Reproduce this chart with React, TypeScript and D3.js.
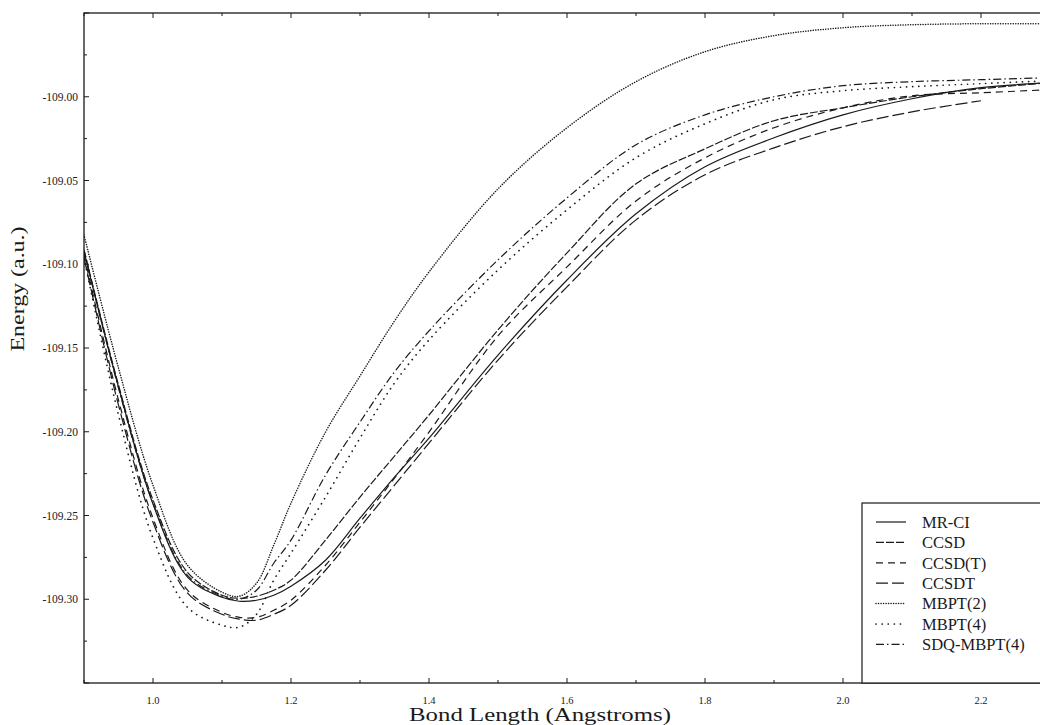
import React from "react";
import * as d3 from "d3";

// Bond length grid (Angstroms)
const X_VALUES = [0.9, 0.95, 1.0, 1.05, 1.1, 1.125, 1.15, 1.175, 1.2, 1.25, 1.3, 1.35, 1.4, 1.5, 1.6, 1.7, 1.8, 1.9, 2.0, 2.1, 2.2, 2.3];

// Energies (a.u.)
const MRCI = [-109.0926, -109.1733, -109.2432, -109.2868, -109.2988, -109.3012, -109.3006, -109.2976, -109.2922, -109.2767, -109.2516, -109.2271, -109.2038, -109.1542, -109.1094, -109.0699, -109.0418, -109.0245, -109.0108, -109.0012, -108.9946, -108.9916];
const CCSD = [-109.0914, -109.1721, -109.2408, -109.2839, -109.2976, -109.2994, -109.2982, -109.2946, -109.2886, -109.2647, -109.239, -109.2145, -109.19, -109.1392, -109.0932, -109.052, -109.0311, -109.0143, -109.0066, -109.0, -108.9952, -108.9916];
const CCSD_T = [-109.0944, -109.1811, -109.2516, -109.2946, -109.3078, -109.3108, -109.3108, -109.3066, -109.3006, -109.2797, -109.254, -109.2277, -109.2002, -109.1428, -109.1016, -109.0622, -109.0365, -109.0185, -109.0066, -108.9994, -108.9976, -108.9958];
const CCSDT = [-109.0962, -109.1841, -109.254, -109.2964, -109.309, -109.3119, -109.3125, -109.309, -109.3036, -109.2827, -109.257, -109.2319, -109.2068, -109.1572, -109.1135, -109.0735, -109.0466, -109.0305, -109.0179, -109.009, -109.0024, null];
const MBPT2 = [-109.0825, -109.162, -109.2319, -109.2797, -109.2958, -109.2982, -109.2904, -109.2677, -109.2426, -109.2002, -109.1667, -109.1339, -109.1046, -109.055, -109.0185, -108.991, -108.9731, -108.9635, -108.9588, -108.957, -108.9564, -108.9564];
const MBPT4 = [-109.0962, -109.19, -109.2635, -109.3048, -109.3155, -109.3167, -109.309, -109.2886, -109.2725, -109.2390, -109.2038, -109.1709, -109.1452, -109.1034, -109.0675, -109.0364, -109.0161, -109.0018, -108.9964, -108.994, -108.9922, -108.9904];
const SDQ_MBPT4 = [-109.0914, -109.1739, -109.2426, -109.2857, -109.2982, -109.3, -109.2946, -109.2785, -109.2647, -109.2259, -109.1942, -109.1643, -109.1398, -109.0974, -109.0604, -109.0287, -109.0108, -109.0, -108.9934, -108.991, -108.9898, -108.9886];

const SERIES_NAMES = ["MR-CI", "CCSD", "CCSD(T)", "CCSDT", "MBPT(2)", "MBPT(4)", "SDQ-MBPT(4)"];
const SERIES_VALUES = [MRCI, CCSD, CCSD_T, CCSDT, MBPT2, MBPT4, SDQ_MBPT4];

const X_DOMAIN = [0.9, 2.3];
const Y_DOMAIN = [-109.35, -108.95];

const STYLES = [
  { dash: "none", cap: "butt", w: 1.2 },
  { dash: "8,2", cap: "butt", w: 1.2 },
  { dash: "7,5", cap: "butt", w: 1.2 },
  { dash: "12,4", cap: "butt", w: 1.2 },
  { dash: "0.1,2.4", cap: "round", w: 1.5 },
  { dash: "0.1,6", cap: "round", w: 1.7 },
  { dash: "8,3,1.5,3", cap: "butt", w: 1.2 },
];

const FONT = "'Liberation Serif', 'Times New Roman', serif";

export default function App() {
  const W = 1040, H = 725;
  const left = 84, top = 13, bottom = 683, right = 1050;
  const x = d3.scaleLinear().domain(X_DOMAIN).range([left, right]);
  const y = d3.scaleLinear().domain(Y_DOMAIN).range([bottom, top]);

  const line = d3
    .line<[number, number | null]>()
    .defined((d) => d[1] != null)
    .x((d) => x(d[0]))
    .y((d) => y(d[1] as number))
    .curve(d3.curveCatmullRom.alpha(0.5));

  const xTicks = d3.range(0, 15).map((i) => ({ v: X_DOMAIN[0] + i * 0.1, major: i % 2 === 1 }));
  const yTicks = d3.range(0, 17).map((i) => ({ v: Y_DOMAIN[0] + i * 0.025, major: i % 2 === 0 }));
  const fmtY = (v: number) => d3.format(".2f")(v).replace("\u2212", "-");

  const ink = "#1a1a1a";
  const legX = 862, legTop = 503;
  const legRowY = (i: number) => 522 + i * 20.4;

  return (
    <svg width={W} height={H} style={{ position: "absolute", left: 0, top: 0, background: "#fff" }}>
      <rect x={0} y={0} width={W} height={H} fill="#fff" />
      <defs>
        <clipPath id="plotclip">
          <rect x={left} y={top} width={right - left} height={bottom - top} />
        </clipPath>
      </defs>

      {/* curves */}
      <g clipPath="url(#plotclip)">
        {SERIES_VALUES.map((vals, i) => (
          <path
            key={SERIES_NAMES[i]}
            d={line(X_VALUES.map((xv, j) => [xv, vals[j]] as [number, number | null])) || ""}
            fill="none"
            stroke={ink}
            strokeWidth={STYLES[i].w}
            strokeDasharray={STYLES[i].dash}
            strokeLinecap={STYLES[i].cap as any}
          />
        ))}
      </g>

      {/* frame */}
      <rect x={left} y={top} width={right - left} height={bottom - top} fill="none" stroke={ink} strokeWidth={1.3} />

      {/* x ticks (top and bottom, inward) */}
      {xTicks.map(({ v, major }) => {
        const len = major ? 5 : 3;
        const px = x(v);
        return (
          <g key={"xt" + v}>
            <line x1={px} x2={px} y1={bottom} y2={bottom - len} stroke={ink} strokeWidth={1} />
            <line x1={px} x2={px} y1={top} y2={top + len} stroke={ink} strokeWidth={1} />
            {major && (
              <text x={px} y={704} textAnchor="middle" fontFamily={FONT} fontSize={10.5} fill={ink}>
                {d3.format(".1f")(v)}
              </text>
            )}
          </g>
        );
      })}

      {/* y ticks (left, inward) */}
      {yTicks.map(({ v, major }) => {
        const len = major ? 5 : 3;
        const py = y(v);
        const showLabel = major && v <= -108.99 && v >= -109.31;
        return (
          <g key={"yt" + v}>
            <line x1={left} x2={left + len} y1={py} y2={py} stroke={ink} strokeWidth={1} />
            {showLabel && (
              <text x={78} y={py} dy="0.35em" textAnchor="end" fontFamily={FONT} fontSize={11.5} fill={ink}>
                {fmtY(v)}
              </text>
            )}
          </g>
        );
      })}

      {/* axis titles */}
      <text
        x={540}
        y={721}
        textAnchor="middle"
        fontFamily={FONT}
        fontSize={18}
        textLength={262}
        lengthAdjust="spacingAndGlyphs"
        fill={ink}
      >
        Bond Length (Angstroms)
      </text>
      <text
        transform={`translate(24, 289) rotate(-90)`}
        textAnchor="middle"
        fontFamily={FONT}
        fontSize={18}
        textLength={125}
        lengthAdjust="spacingAndGlyphs"
        fill={ink}
      >
        Energy (a.u.)
      </text>

      {/* legend */}
      <rect x={legX} y={legTop} width={W - legX + 20} height={bottom - legTop} fill="#fff" stroke={ink} strokeWidth={1.2} />
      {SERIES_NAMES.map((name, i) => (
        <g key={"lg" + name}>
          <line
            x1={876}
            x2={906}
            y1={legRowY(i)}
            y2={legRowY(i)}
            stroke={ink}
            strokeWidth={STYLES[i].w}
            strokeDasharray={STYLES[i].dash}
            strokeLinecap={STYLES[i].cap as any}
          />
          <text x={922} y={legRowY(i)} dy="0.35em" fontFamily={FONT} fontSize={16.5} fill={ink}>
            {name}
          </text>
        </g>
      ))}
    </svg>
  );
}
